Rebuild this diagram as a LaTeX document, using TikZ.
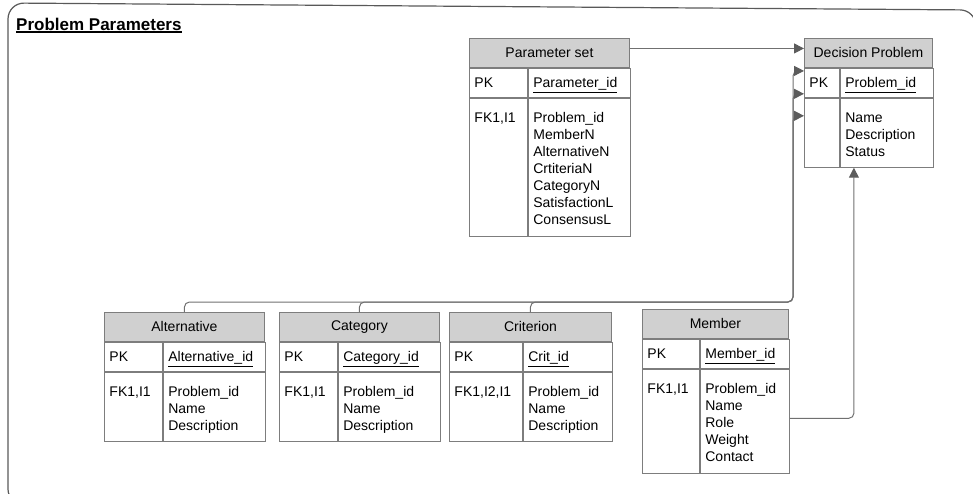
\documentclass[tikz,border=0pt]{standalone}
\usepackage{fontspec}
\setmainfont{Liberation Sans}
\usetikzlibrary{arrows.meta,positioning}

\definecolor{headgray}{RGB}{208,208,208}
\definecolor{boxgray}{RGB}{125,125,125}
\definecolor{linegray}{RGB}{112,112,112}
\definecolor{tipgray}{RGB}{92,92,92}

% thick underline for the title
\newcommand{\titleul}[1]{\setbox0=\hbox{#1}\rlap{\rule[-2.5pt]{\wd0}{1.6pt}}\box0}

\begin{document}
\begin{tikzpicture}[
  x=1pt, y=-1pt,
  font=\fontsize{14}{17}\selectfont,
  tblhead/.style={draw=boxgray, line width=0.9pt, fill=headgray, anchor=north west, minimum height=29pt, inner sep=0pt},
  keycell/.style={draw=boxgray, line width=0.9pt, inner xsep=5pt, inner ysep=0pt, minimum height=29pt, text height=10pt, text depth=0pt, align=left},
  fieldcell/.style={draw=boxgray, line width=0.9pt, inner xsep=5pt, inner ysep=4pt, text height=20pt, align=left},
  fk/.style={draw=linegray, line width=1pt, rounded corners=5pt, -{Triangle[length=10pt, width=10pt, color=tipgray]}},
  frame/.style={draw=black!65, line width=1.2pt, rounded corners=16pt}
]
\useasboundingbox (0,0) rectangle (973,493);
\draw[frame] (8,3) -- (976,10) -- (976,505) -- (8,505) -- cycle;
\node[anchor=base west, inner sep=0pt] (title) at (16,30) {\fontsize{17}{20}\selectfont\bfseries\titleul{Problem Parameters}};

% Parameter set
\node[tblhead, minimum width=160pt] (psethead) at (469,38) {Parameter set};
\node[keycell, text width=48pt, below right=0pt of psethead.south west] (psetpk) {PK};
\node[keycell, text width=92pt, right=0pt of psetpk] (psetkey) {\underline{Parameter\_id}};
\node[fieldcell, text width=48pt, text depth=110pt, below right=0pt of psetpk.south west] (psetfk) {FK1,I1};
\node[fieldcell, text width=92pt, text depth=110pt, right=0pt of psetfk] (psetfields) {Problem\_id\\MemberN\\AlternativeN\\CrtiteriaN\\CategoryN\\SatisfactionL\\ConsensusL};

% Decision Problem
\node[tblhead, minimum width=128pt] (dphead) at (804,38) {Decision Problem};
\node[keycell, text width=25pt, below right=0pt of dphead.south west] (dppk) {PK};
\node[keycell, text width=83pt, right=0pt of dppk] (dpkey) {\underline{Problem\_id}};
\node[fieldcell, text width=25pt, text depth=41pt, below right=0pt of dppk.south west] (dpfk) {};
\node[fieldcell, text width=83pt, text depth=41pt, right=0pt of dpfk] (dpfields) {Name\\Description\\Status};

% Alternative
\node[tblhead, minimum width=160pt] (althead) at (104,312) {Alternative};
\node[keycell, text width=48pt, below right=0pt of althead.south west] (altpk) {PK};
\node[keycell, text width=92pt, right=0pt of altpk] (altkey) {\underline{Alternative\_id}};
\node[fieldcell, text width=48pt, text depth=41pt, below right=0pt of altpk.south west] (altfk) {FK1,I1};
\node[fieldcell, text width=92pt, text depth=41pt, right=0pt of altfk] (altfields) {Problem\_id\\Name\\Description};

% Category
\node[tblhead, minimum width=160pt] (cathead) at (279,312) {Category};
\node[keycell, text width=48pt, below right=0pt of cathead.south west] (catpk) {PK};
\node[keycell, text width=92pt, right=0pt of catpk] (catkey) {\underline{Category\_id}};
\node[fieldcell, text width=48pt, text depth=41pt, below right=0pt of catpk.south west] (catfk) {FK1,I1};
\node[fieldcell, text width=92pt, text depth=41pt, right=0pt of catfk] (catfields) {Problem\_id\\Name\\Description};

% Criterion
\node[tblhead, minimum width=162pt] (crithead) at (449,312) {Criterion};
\node[keycell, text width=63pt, below right=0pt of crithead.south west] (critpk) {PK};
\node[keycell, text width=79pt, right=0pt of critpk] (critkey) {\underline{Crit\_id}};
\node[fieldcell, text width=63pt, text depth=41pt, below right=0pt of critpk.south west] (critfk) {FK1,I2,I1};
\node[fieldcell, text width=79pt, text depth=41pt, right=0pt of critfk] (critfields) {Problem\_id\\Name\\Description};

% Member
\node[tblhead, minimum width=146pt] (memhead) at (642,309) {Member};
\node[keycell, text width=47pt, below right=0pt of memhead.south west] (mempk) {PK};
\node[keycell, text width=79pt, right=0pt of mempk] (memkey) {\underline{Member\_id}};
\node[fieldcell, text width=47pt, text depth=76pt, below right=0pt of mempk.south west] (memfk) {FK1,I1};
\node[fieldcell, text width=79pt, text depth=76pt, right=0pt of memfk] (memfields) {Problem\_id\\Name\\Role\\Weight\\Contact};

% foreign keys into Decision Problem
\coordinate (bus) at (793,302);
\coordinate (critin) at ([yshift=-3pt]dphead.south west);
\coordinate (catin) at ([yshift=4pt]dppk.south west);
\coordinate (altin) at ([yshift=-18pt]dpfk.north west);

\draw[fk] ([yshift=4.5pt]psethead.east) -- ([yshift=4.5pt]dphead.west);
\draw[fk] (althead.north) |- (bus) -- (bus |- altin) [sharp corners] -- (altin);
\draw[fk] (cathead.north) |- (bus) -- (bus |- catin) [sharp corners] -- (catin);
\draw[fk] (crithead.north) |- (bus) -- (bus |- critin) [sharp corners] -- (critin);
\draw[fk] ([yshift=3pt]memfields.east) -| ([xshift=14pt]dpfields.south west);
\end{tikzpicture}
\end{document}
